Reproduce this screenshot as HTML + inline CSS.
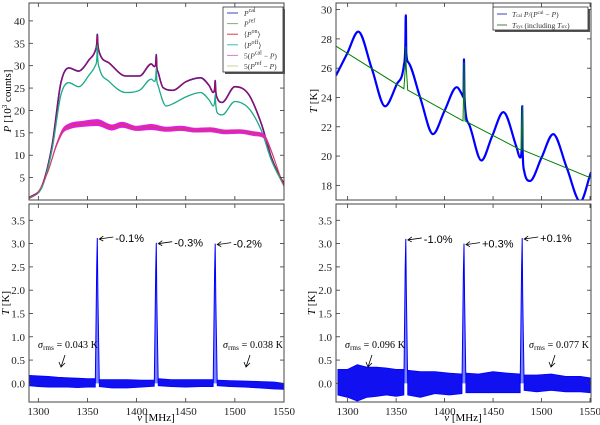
<!DOCTYPE html>
<html><head><meta charset="utf-8">
<style>
body{margin:0;background:#fff;}
svg{display:block;font-family:"Liberation Serif",serif;}
.tk{font-size:11px;fill:#222;}
.ann{font-family:"Liberation Sans",sans-serif;font-size:11px;fill:#000;}
</style></head><body>
<svg id="fig" width="600" height="425" viewBox="0 0 600 425" xmlns="http://www.w3.org/2000/svg"></svg>
<script>
// ---------- DATA ----------
const tlOnFreq = [1290,1304,1314,1323,1331,1341,1352,1358,1359.5,1360,1360.5,1362,1372,1389,1403,1415,1418,1419.5,1420,1420.5,1422,1427,1437,1450,1465,1474,1478,1479.5,1480,1480.5,1482,1487,1500,1514,1527,1537,1548,1550];
const tlOnVal  = [0.4,3.3,12.2,26.2,29.5,28.8,31.4,33.4,35,37,35,33,30.6,27.7,27.7,30.4,29.8,30.5,32.5,30,28.5,25.1,24.5,26.4,27.3,25.5,24.0,25,26.7,24.5,22.8,21.8,25.3,23.6,17.0,9.6,4.4,3.8];
const tlOffFreq = [1290,1304,1314,1323,1331,1341,1352,1358,1359.5,1360,1360.5,1362,1372,1389,1403,1415,1418,1419.5,1420,1420.5,1422,1430,1437,1450,1465,1474,1478,1479.5,1480,1480.5,1482,1487,1500,1514,1527,1537,1548,1550];
const tlOffVal  = [0.3,3.0,11.3,23.5,26.2,25.3,28.0,30.0,31.5,34.5,31.5,29.5,26.5,24.0,24.5,27.0,26.5,27.5,29.5,27.0,25.5,21.0,21.5,23.0,24.0,22.3,21.0,22,23.5,21.5,19.5,19.0,22.0,20.5,15.5,9.0,4.0,3.2];
const tlDiffFreq = [1290,1300,1310,1318,1325,1332,1345,1360,1375,1385,1400,1415,1430,1445,1460,1475,1490,1505,1520,1530,1537,1545,1550];
const tlDiffVal  = [0.2,1.8,6.5,12,15.5,16.5,17,17.3,16.2,16.8,16,16.3,15.8,16,15.6,15.7,15.2,15.3,14.8,14.2,11,6,3];
const tlDiffNoise= [0,0,0.1,0.3,0.5,0.6,0.6,0.7,0.6,0.6,0.5,0.6,0.5,0.5,0.45,0.5,0.45,0.45,0.45,0.4,0.2,0,0];
const trCalFreq = [1288,1299.5,1311,1325,1338.6,1350.6,1358,1359.5,1360,1360.5,1362.6,1375,1388,1400,1412.5,1418,1419.5,1420,1420.5,1425,1438,1449,1460.6,1474,1478,1479.5,1480,1480.5,1482,1488,1500,1512,1526,1540,1551];
const trCalVal  = [25.5,27.0,28.5,25.95,23.4,24.9,26.2,27.5,29.6,27,26.4,23.95,21.5,23.1,24.7,24.2,24.0,26.6,24,22.2,19.7,21.35,23.0,20.65,19.9,20.5,23.4,20.5,19.0,18.3,19.9,21.5,19.2,16.9,18.9];
const trFitFreq = [1288,1358,1359.5,1360,1360.5,1362,1419,1419.5,1420,1420.5,1421,1479,1479.5,1480,1480.5,1481,1551];
const trFitVal  = [27.5,24.6,26,27.5,26,24.5,22.4,24,26.4,24,22.4,20.4,22,23.4,22,20.4,18.5];
const spikeFreqs = [1360,1420,1480];
const blSpikeHeights = [3.12,3.02,3.0];
const brSpikeHeights = [3.1,3.0,3.12];
const blSpikeLabels = ["-0.1%","-0.3%","-0.2%"];
const brSpikeLabels = ["-1.0%","+0.3%","+0.1%"];
const noiseFreq = [1290,1300,1310,1320,1330,1340,1350,1358,1362,1375,1390,1405,1418,1422,1435,1450,1465,1478,1482,1495,1510,1525,1540,1550];
const blNoiseUp = [0.17,0.16,0.15,0.13,0.12,0.11,0.1,0.1,0.08,0.08,0.08,0.07,0.07,0.1,0.08,0.08,0.08,0.08,0.07,0.06,0.05,0.04,0.03,0.0];
const blNoiseLo = [-0.05,-0.07,-0.08,-0.08,-0.08,-0.09,-0.08,-0.08,-0.07,-0.1,-0.1,-0.08,-0.06,-0.05,-0.07,-0.08,-0.07,-0.07,-0.05,-0.07,-0.08,-0.1,-0.12,-0.13];
const brNoiseUp = [0.3,0.3,0.4,0.35,0.35,0.33,0.3,0.3,0.28,0.25,0.25,0.22,0.2,0.22,0.2,0.25,0.22,0.2,0.18,0.18,0.2,0.15,0.15,0.12];
const brNoiseLo = [-0.25,-0.3,-0.38,-0.3,-0.28,-0.25,-0.28,-0.25,-0.25,-0.3,-0.22,-0.25,-0.22,-0.2,-0.2,-0.2,-0.2,-0.2,-0.15,-0.18,-0.15,-0.18,-0.18,-0.2];
const blSigma = ["0.043","0.038"];
const brSigma = ["0.096","0.077"];
const xTicks = [1300,1350,1400,1450,1500,1550];
const tlYTicks = [5,10,15,20,25,30,35,40];
const trYTicks = [18,20,22,24,26,28,30];
const bYTicks = [0.0,0.5,1.0,1.5,2.0,2.5,3.0,3.5];

// ---------- DRAW ----------
const NS="http://www.w3.org/2000/svg";
const svg=document.getElementById('fig');
function el(tag,attrs,parent){const e=document.createElementNS(NS,tag);for(const k in attrs)e.setAttribute(k,attrs[k]);(parent||svg).appendChild(e);return e;}
function panel(x0,y0,x1,y1,xmin,xmax,ymin,ymax){
  return {x0,y0,x1,y1,sx:v=>x0+(v-xmin)/(xmax-xmin)*(x1-x0),sy:v=>y1-(v-ymin)/(ymax-ymin)*(y1-y0)};
}
function linePath(p,xs,ys){return xs.map((v,i)=>(i?'L':'M')+p.sx(v).toFixed(1)+','+p.sy(ys[i]).toFixed(1)).join('');}
// monotone cubic (Fritsch-Carlson) — no overshoot
function smoothPath(p,xs,ys){
  const X=xs.map(p.sx),Y=ys.map(p.sy),n=X.length;
  const d=[],m=new Array(n);
  for(let i=0;i<n-1;i++)d.push((Y[i+1]-Y[i])/(X[i+1]-X[i]));
  m[0]=d[0];m[n-1]=d[n-2];
  for(let i=1;i<n-1;i++){m[i]=(d[i-1]*d[i]<=0)?0:(d[i-1]+d[i])/2;}
  for(let i=0;i<n-1;i++){if(d[i]===0){m[i]=0;m[i+1]=0;continue;}
    const a=m[i]/d[i],b=m[i+1]/d[i],s=a*a+b*b;
    if(s>9){const t=3/Math.sqrt(s);m[i]=t*a*d[i];m[i+1]=t*b*d[i];}}
  let s='M'+X[0].toFixed(1)+','+Y[0].toFixed(1);
  for(let i=0;i<n-1;i++){const h=(X[i+1]-X[i])/3;
    s+='C'+(X[i]+h).toFixed(1)+','+(Y[i]+m[i]*h).toFixed(1)+' '+(X[i+1]-h).toFixed(1)+','+(Y[i+1]-m[i+1]*h).toFixed(1)+' '+X[i+1].toFixed(1)+','+Y[i+1].toFixed(1);}
  return s;
}
function axes(p,name,yTicks,yFmt,showXLabels,labelX){
  const g=el('g',{});
  
  
  xTicks.forEach(t=>{const x=p.sx(t);
    el('line',{x1:x,x2:x,y1:p.y1,y2:p.y1-4,stroke:'#333','stroke-width':0.8},g);
    el('line',{x1:x,x2:x,y1:p.y0,y2:p.y0+4,stroke:'#333','stroke-width':0.8},g);
    if(showXLabels){const t2=el('text',{x:x,y:p.y1+13,'text-anchor':'middle',class:'tk'},g);t2.textContent=t;
      }
  });
  yTicks.forEach(t=>{const y=p.sy(t);
    el('line',{x1:p.x0,x2:p.x0+4,y1:y,y2:y,stroke:'#333','stroke-width':0.8},g);
    el('line',{x1:p.x1,x2:p.x1-4,y1:y,y2:y,stroke:'#333','stroke-width':0.8},g);
    const t2=el('text',{x:labelX,y:y+4,'text-anchor':'end',class:'tk'},g);t2.textContent=yFmt(t);
    
  });
  const r=el('rect',{x:p.x0,y:p.y0,width:p.x1-p.x0,height:p.y1-p.y0,fill:'none',stroke:'#444','stroke-width':1},g);
  
}
function clip(p,id){const c=el('clipPath',{id:id});el('rect',{x:p.x0,y:p.y0,width:p.x1-p.x0,height:p.y1-p.y0},c);return 'url(#'+id+')';}
function text(x,y,s,attrs,name){const t=el('text',Object.assign({x:x,y:y},attrs||{}));t.innerHTML=s;
  return t;}

const TL=panel(29,3,284,200,1290.5,1550,0,44);
const TR=panel(336,3,591,200,1288,1551,17,30.45);
const BL=panel(29,204,284,402,1290.5,1550,-0.4,3.85);
const BR=panel(336,204,591,402,1288,1551,-0.4,3.85);

// ---- top-left
{const cp=clip(TL,'c1');const g=el('g',{'clip-path':cp});
 
 let e=el('path',{d:smoothPath(TL,tlOnFreq,tlOnVal),fill:'none',stroke:'#0000ff','stroke-width':1.6},g);
 
 e=el('path',{d:smoothPath(TL,tlOnFreq,tlOnVal),fill:'none',stroke:'#a0104a','stroke-width':1.2},g);
 
 e=el('path',{d:smoothPath(TL,tlOffFreq,tlOffVal),fill:'none',stroke:'#1aaa88','stroke-width':1.3},g);
 
 const up=tlDiffVal.map((v,i)=>v+tlDiffNoise[i]),lo=tlDiffVal.map((v,i)=>v-tlDiffNoise[i]);
 const band=smoothPath(TL,tlDiffFreq,up)+smoothPath(TL,tlDiffFreq.slice().reverse(),lo.slice().reverse()).replace('M','L')+'Z';
 e=el('path',{d:band,fill:'#e020d8',stroke:'#e020d8','stroke-width':0.6},g);
 
 e=el('path',{d:smoothPath(TL,tlDiffFreq,tlDiffVal),fill:'none',stroke:'#d04050','stroke-width':1},g);
 
}
axes(TL,'top-left',tlYTicks,v=>v,false,25);
text(11,101,'<tspan font-style="italic">P</tspan> [10<tspan font-size="7" dy="-4">3</tspan><tspan dy="4"> counts]</tspan>',{'text-anchor':'middle',transform:'rotate(-90 11 101)','font-size':'11'},'y-axis-title-power');
{const g=el('g',{});
 el('rect',{x:225,y:9,width:60,height:65,fill:'#555'},g);
 el('rect',{x:223,y:7,width:60,height:65,fill:'#fff',stroke:'#333','stroke-width':0.8},g);
 const cols=['#4040c0','#80b080','#d04050','#30c0c0','#d080d0','#d0d090'];
 const labs=['<tspan font-style="italic">P</tspan><tspan font-size="6" dy="-4">cal</tspan>','<tspan font-style="italic">P</tspan><tspan font-size="6" dy="-4">ref</tspan>','⟨<tspan font-style="italic">P</tspan><tspan font-size="6" dy="-4">on</tspan><tspan dy="4">⟩</tspan>','⟨<tspan font-style="italic">P</tspan><tspan font-size="6" dy="-4">off</tspan><tspan dy="4">⟩</tspan>','5(<tspan font-style="italic">P</tspan><tspan font-size="6" dy="-4">cal</tspan><tspan dy="4"> − </tspan><tspan font-style="italic">P</tspan>)','5(<tspan font-style="italic">P</tspan><tspan font-size="6" dy="-4">ref</tspan><tspan dy="4"> − </tspan><tspan font-style="italic">P</tspan>)'];
 cols.forEach((c,i)=>{const y=13+i*10.6;
  const l=el('line',{x1:227,x2:238,y1:y,y2:y,stroke:c,'stroke-width':1},g);
  
  const t=el('text',{x:244,y:y+3,'font-size':'7.5',fill:'#333'},g);t.innerHTML=labs[i];
  });
}

// ---- top-right
{const cp=clip(TR,'c2');const g=el('g',{'clip-path':cp});
 
 let e=el('path',{d:smoothPath(TR,trCalFreq,trCalVal),fill:'none',stroke:'#0000ff','stroke-width':2.2},g);
 
 e=el('path',{d:linePath(TR,trFitFreq,trFitVal),fill:'none',stroke:'#008000','stroke-width':1},g);
 
}
axes(TR,'top-right',trYTicks,v=>v,false,332);
text(317,101,'<tspan font-style="italic">T</tspan> [K]',{'text-anchor':'middle',transform:'rotate(-90 317 101)','font-size':'11'},'y-axis-title-temp-top');
{const g=el('g',{});
 el('rect',{x:495,y:9,width:95,height:23,fill:'#555'},g);
 el('rect',{x:493,y:7,width:95,height:23,fill:'#fff',stroke:'#333','stroke-width':0.8},g);
 let l=el('line',{x1:497,x2:507,y1:14,y2:14,stroke:'#4040c0'},g);
 l=el('line',{x1:497,x2:507,y1:25,y2:25,stroke:'#408040'},g);
 let t=el('text',{x:512,y:17,'font-size':'7.5',fill:'#333'},g);t.innerHTML='<tspan font-style="italic">T</tspan><tspan font-size="5">cal</tspan> <tspan font-style="italic">P</tspan>/(<tspan font-style="italic">P</tspan><tspan font-size="5" dy="-3">cal</tspan><tspan dy="3"> − </tspan><tspan font-style="italic">P</tspan>)';
 
 t=el('text',{x:512,y:28,'font-size':'7.5',fill:'#333'},g);t.innerHTML='<tspan font-style="italic">T</tspan><tspan font-size="5">sys</tspan> (including <tspan font-style="italic">T</tspan><tspan font-size="5">src</tspan>)';
 
}

// ---- bottom panels
function bottom(P,id,up,lo,heights,labels,sig,labelX,sigPos){
  const cp=clip(P,id);const g=el('g',{'clip-path':cp});
  
  let seg=[[]];
  noiseFreq.forEach((f,i)=>{seg[seg.length-1].push(i);
    if(spikeFreqs.some(s=>f<s&&noiseFreq[i+1]>s))seg.push([]);});
  seg.forEach(s=>{const fx=s.map(i=>noiseFreq[i]);
    const d=linePath(P,fx,s.map(i=>up[i]))+linePath(P,fx.slice().reverse(),s.map(i=>lo[i]).reverse()).replace('M','L')+'Z';
    const e=el('path',{d:d,fill:'#1010f0',stroke:'#0000ff','stroke-width':0.8},g);
    });
  spikeFreqs.forEach((f,i)=>{
    const d=linePath(P,[f-2,f-0.6,f,f+0.6,f+2],[0,heights[i]*0.8,heights[i],heights[i]*0.6,0]);
    const e=el('path',{d:d,fill:'#2030ff','fill-opacity':0.6,stroke:'#0000ff','stroke-width':1},g);
    });
  spikeFreqs.forEach((f,i)=>{const x=P.sx(f)+1,y=P.sy(heights[i])+1;
    const a=el('path',{d:`M${x+15},${y-2} L${x+1},${y} M${x+5},${y-3} L${x+1},${y} L${x+5},${y+2}`,stroke:'#000',fill:'none','stroke-width':0.8});
    
    text(x+17,y+3,labels[i],{class:'ann'},'spike-residual-label');});
  sigPos.forEach((sp,i)=>{
    text(sp[0],348,'<tspan font-style="italic">σ</tspan><tspan font-size="7" dy="2">rms</tspan><tspan dy="-2"> = '+sig[i]+' K</tspan>',{'font-size':'10','textLength':'60'},'sigma-rms-label');
    const ax=sp[1];
    const a=el('path',{d:`M${ax+4},${355} L${ax},${367} M${ax-2},${362} L${ax},${367} L${ax+4},${363}`,stroke:'#000',fill:'none','stroke-width':0.8});
    });
  axes(P,id,bYTicks,v=>v.toFixed(1),true,labelX);
}
bottom(BL,'bottom-left',blNoiseUp,blNoiseLo,blSpikeHeights,blSpikeLabels,blSigma,25,[[38,61],[223,246]]);
bottom(BR,'bottom-right',brNoiseUp,brNoiseLo,brSpikeHeights,brSpikeLabels,brSigma,332,[[345,368],[529,551]]);
text(9,303,'<tspan font-style="italic">T</tspan> [K]',{'text-anchor':'middle',transform:'rotate(-90 9 303)','font-size':'11'},'y-axis-title-temp-bl');
text(315,303,'<tspan font-style="italic">T</tspan> [K]',{'text-anchor':'middle',transform:'rotate(-90 315 303)','font-size':'11'},'y-axis-title-temp-br');
text(156,421,'<tspan font-style="italic">ν</tspan> [MHz]',{'text-anchor':'middle','font-size':'11'},'x-axis-title-left');
text(463,421,'<tspan font-style="italic">ν</tspan> [MHz]',{'text-anchor':'middle','font-size':'11'},'x-axis-title-right');
</script>
</body></html>
